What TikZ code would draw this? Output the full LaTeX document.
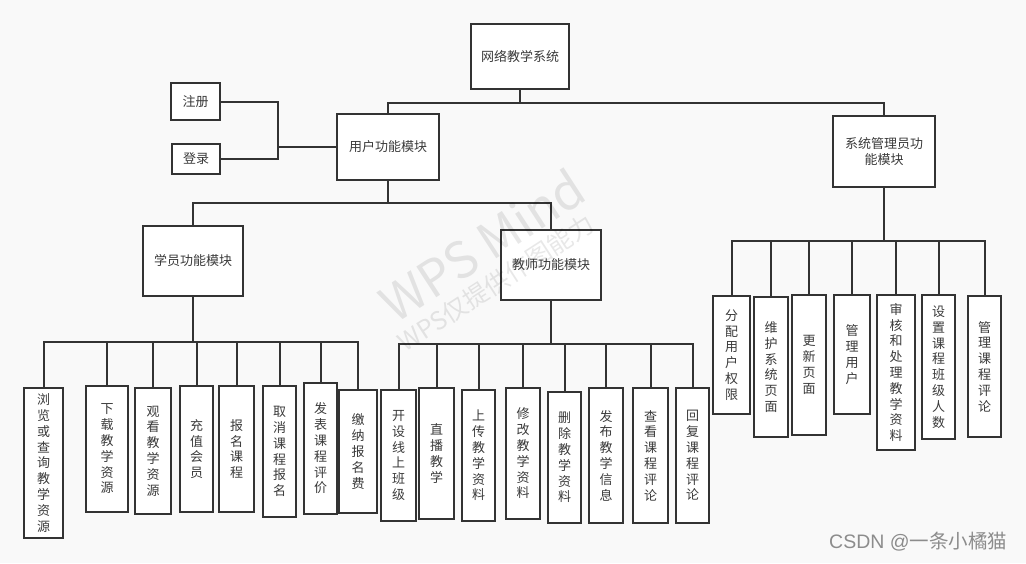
\documentclass[tikz,border=0pt]{standalone}
\usepackage{fontspec}
\newfontfamily\cjk{Noto Sans CJK SC}
\newfontfamily\lat{Liberation Sans}
\definecolor{bgc}{HTML}{F9F9F9}
\definecolor{lc}{HTML}{333333}
\definecolor{tc}{HTML}{3A3A3A}
\tikzset{
  box/.style={draw=lc, fill=white, line width=2pt, text=tc, inner sep=0pt, align=center,
    font=\cjk\fontsize{13}{15.8}\selectfont},
  leaf/.style={box},
  conn/.style={draw=lc, line width=2pt},
}
\begin{document}
\begin{tikzpicture}[x=1pt,y=-1pt]
\fill[bgc] (0,0) rectangle (1026,563);
\useasboundingbox (0,0) rectangle (1026,563);

% top nodes
\node[box, minimum width=98pt, minimum height=65pt] (root) at (520,56.5) {网络教学系统};
\node[box, minimum width=102pt, minimum height=66pt] (user) at (388,147) {用户功能模块};
\node[box, minimum width=49pt, minimum height=37pt] (reg) at (195.5,101.5) {注册};
\node[box, minimum width=48pt, minimum height=30pt] (login) at (196,159) {登录};
\node[box, minimum width=100pt, minimum height=70pt] (stu) at (193,261) {学员功能模块};
\node[box, minimum width=100pt, minimum height=70pt] (tea) at (551,265) {教师功能模块};
\node[box, minimum width=102pt, minimum height=71pt] (adm) at (884,151.5) {系统管理员功\\能模块};

% student leaves
\node[leaf, minimum width=39pt, minimum height=150pt] (s1) at (43.5,463) {浏\\览\\或\\查\\询\\教\\学\\资\\源};
\node[leaf, minimum width=42pt, minimum height=126pt] (s2) at (107,449) {下\\载\\教\\学\\资\\源};
\node[leaf, minimum width=36pt, minimum height=126pt] (s3) at (153,451) {观\\看\\教\\学\\资\\源};
\node[leaf, minimum width=33pt, minimum height=126pt] (s4) at (196.5,449) {充\\值\\会\\员};
\node[leaf, minimum width=35pt, minimum height=126pt] (s5) at (236.5,449) {报\\名\\课\\程};
\node[leaf, minimum width=33pt, minimum height=131pt] (s6) at (279.5,451.5) {取\\消\\课\\程\\报\\名};
\node[leaf, minimum width=33pt, minimum height=131pt] (s7) at (320.5,448.5) {发\\表\\课\\程\\评\\价};
\node[leaf, minimum width=38pt, minimum height=123pt] (s8) at (358,451.5) {缴\\纳\\报\\名\\费};

% teacher leaves
\node[leaf, minimum width=35pt, minimum height=131pt] (t1) at (398.5,455.5) {开\\设\\线\\上\\班\\级};
\node[leaf, minimum width=35pt, minimum height=131pt] (t2) at (436.5,453.5) {直\\播\\教\\学};
\node[leaf, minimum width=33pt, minimum height=131pt] (t3) at (478.5,455.5) {上\\传\\教\\学\\资\\料};
\node[leaf, minimum width=34pt, minimum height=131pt] (t4) at (523,453.5) {修\\改\\教\\学\\资\\料};
\node[leaf, minimum width=33pt, minimum height=131pt] (t5) at (564.5,457.5) {删\\除\\教\\学\\资\\料};
\node[leaf, minimum width=34pt, minimum height=135pt] (t6) at (606,455.5) {发\\布\\教\\学\\信\\息};
\node[leaf, minimum width=35pt, minimum height=135pt] (t7) at (650.5,455.5) {查\\看\\课\\程\\评\\论};
\node[leaf, minimum width=33pt, minimum height=135pt] (t8) at (692.5,455.5) {回\\复\\课\\程\\评\\论};

% admin leaves
\node[leaf, minimum width=37pt, minimum height=118pt] (a1) at (731.5,355) {分\\配\\用\\户\\权\\限};
\node[leaf, minimum width=34pt, minimum height=140pt] (a2) at (771,367) {维\\护\\系\\统\\页\\面};
\node[leaf, minimum width=34pt, minimum height=140pt] (a3) at (809,365) {更\\新\\页\\面};
\node[leaf, minimum width=36pt, minimum height=119pt] (a4) at (852,354.5) {管\\理\\用\\户};
\node[leaf, minimum width=38pt, minimum height=155pt] (a5) at (896,372.5) {审\\核\\和\\处\\理\\教\\学\\资\\料};
\node[leaf, minimum width=33pt, minimum height=144pt] (a6) at (938.5,367) {设\\置\\课\\程\\班\\级\\人\\数};
\node[leaf, minimum width=33pt, minimum height=141pt] (a7) at (984.5,366.5) {管\\理\\课\\程\\评\\论};

% junction coordinates
\coordinate (hr) at (520,102.5);
\coordinate (hb) at (278,147);
\coordinate (hu) at (388,203);
\coordinate (hs) at (193,342);
\coordinate (ht) at (551,344);
\coordinate (ha) at (884,241);

% connectors
\draw[conn] (root.south) -- (hr);
\draw[conn] (hr) -| (user.north);
\draw[conn] (hr) -| (adm.north);
\draw[conn] (reg.east) -| (hb);
\draw[conn] (login.east) -| (hb);
\draw[conn] (hb) -- (user.west);
\draw[conn] (user.south) -- (hu);
\draw[conn] (hu) -| (stu.north);
\draw[conn] (hu) -| (tea.north);
\draw[conn] (stu.south) -- (hs);
\foreach \n in {s1,s2,s3,s4,s5,s6,s7,s8} {\draw[conn] (hs) -| (\n.north);}
\draw[conn] (tea.south) -- (ht);
\foreach \n in {t1,t2,t3,t4,t5,t6,t7,t8} {\draw[conn] (ht) -| (\n.north);}
\draw[conn] (adm.south) -- (ha);
\foreach \n in {a1,a2,a3,a4,a5,a6,a7} {\draw[conn] (ha) -| (\n.north);}

% watermarks
\node[text=black, text opacity=0.09, rotate=33, font=\cjk\fontsize{50}{50}\selectfont, inner sep=0pt] (wm1) at (482,245) {WPS Mind};
\node[text=black, text opacity=0.09, rotate=33, font=\cjk\fontsize{25}{25}\selectfont, inner sep=0pt] (wm2) at (496,283) {WPS仅提供作图能力};
\node[text=black!45, font=\cjk\fontsize{19.5}{19.5}\selectfont, inner sep=0pt, anchor=west] (csdn) at (829,542) {{\lat CSDN @}一条小橘猫};
\end{tikzpicture}
\end{document}
